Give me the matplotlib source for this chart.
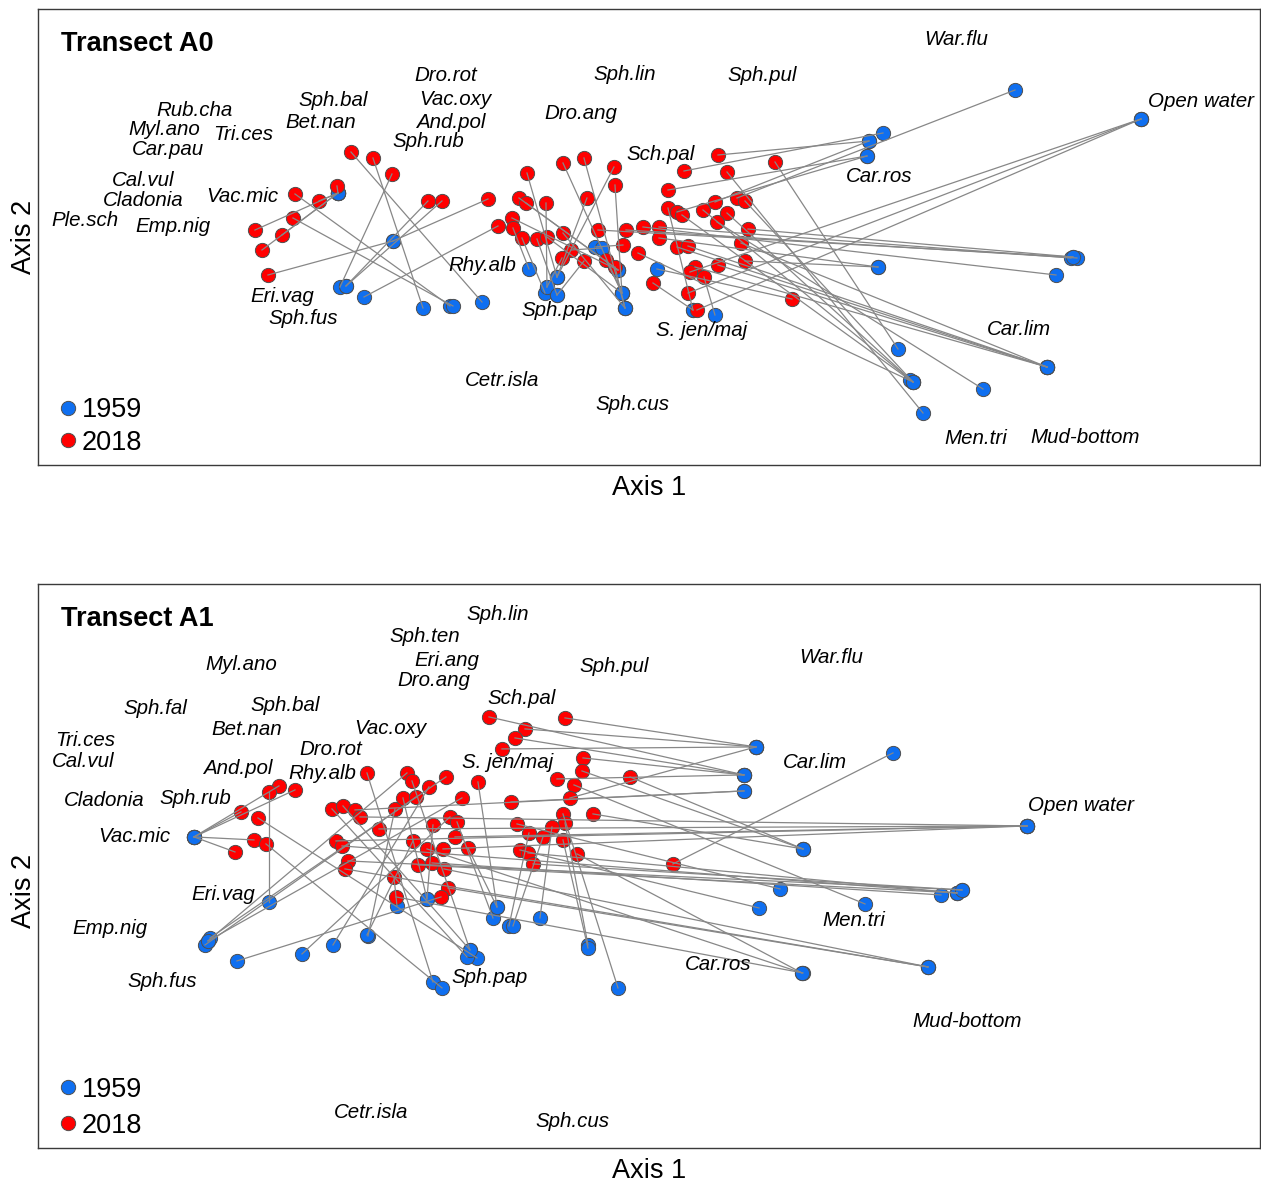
import matplotlib
matplotlib.use("Agg")
import matplotlib.pyplot as plt
from matplotlib.lines import Line2D
from matplotlib.transforms import offset_copy

plt.rcParams['font.family'] = ['Liberation Sans', 'DejaVu Sans']

# ---------------------------------------------------------------
# Transect A0 : site scores (2018 survey and matching 1959 survey)
# ---------------------------------------------------------------
a0_2018_x = [351, 373, 392, 337, 295, 319, 293, 255, 282, 262, 268, 428, 442, 488,
             498, 527, 563, 584, 614, 615, 519, 526, 546, 587, 512, 513, 522, 537,
             547, 563, 598, 626, 643, 659, 659, 623, 571, 562, 584, 606, 615, 638,
             653, 677, 688, 668, 684, 718, 727, 668, 677, 682, 703, 715, 727, 717,
             695, 690, 704, 718, 688, 697, 775, 737, 745, 748, 741, 745, 792]
a0_2018_y = [152, 158, 174, 186, 194, 201, 218, 230, 235, 250, 275, 201, 201, 199,
             226, 173, 163, 158, 167, 185, 198, 203, 203, 198, 218, 228, 238, 239,
             237, 233, 230, 230, 227, 227, 238, 245, 250, 258, 261, 260, 267, 253,
             283, 247, 246, 190, 171, 155, 172, 208, 212, 215, 210, 202, 213, 222,
             267, 272, 277, 265, 293, 310, 162, 198, 201, 229, 243, 261, 299]
a0_1959_x = [482, 423, 340, 338, 450, 338, 453, 338, 338, 338, 393, 346, 346, 393,
             364, 557, 622, 625, 557, 622, 618, 618, 547, 557, 618, 529, 545, 557,
             622, 625, 1073, 1077, 1056, 1071, 878, 595, 602, 547, 557, 622, 625, 913,
             693, 1047, 1047, 867, 883, 869, 923, 693, 867, 910, 913, 869, 913, 983,
             1047, 1141, 715, 1047, 1141, 1141, 898, 1015, 913, 1073, 1047, 878, 657]
a0_1959_y = [302, 308, 287, 193, 306, 193, 306, 193, 193, 193, 241, 286, 286, 241,
             297, 277, 293, 308, 277, 293, 270, 270, 287, 277, 270, 269, 293, 295,
             293, 308, 257, 258, 275, 258, 267, 247, 248, 287, 295, 293, 308, 382,
             310, 367, 367, 156, 133, 141, 413, 310, 156, 380, 382, 141, 382, 389,
             367, 119, 315, 367, 119, 119, 349, 90, 382, 257, 367, 267, 269]

# Species scores, Transect A0
a0_species = ["War.flu", "Open water", "Sph.lin", "Sph.pul", "Dro.rot", "Vac.oxy",
              "And.pol", "Sph.rub", "Dro.ang", "Sph.bal", "Bet.nan", "Rub.cha",
              "Myl.ano", "Tri.ces", "Car.pau", "Cal.vul", "Cladonia", "Vac.mic",
              "Ple.sch", "Emp.nig", "Sch.pal", "Car.ros", "Rhy.alb", "Eri.vag",
              "Sph.fus", "Sph.pap", "S. jen/maj", "Car.lim", "Cetr.isla", "Sph.cus",
              "Men.tri", "Mud-bottom"]
a0_species_x = [956, 1201, 625, 762, 446, 455, 451, 428, 581, 333, 321, 195,
                164, 243, 168, 143, 143, 242, 85, 173, 661, 879, 482, 282,
                303, 560, 702, 1019, 502, 632, 976, 1085]
a0_species_y = [38, 100, 73, 74, 74, 98, 121, 140, 112, 99, 121, 109,
                128, 133, 148, 179, 199, 195, 219, 225, 153, 175, 264, 295,
                317, 309, 329, 328, 379, 403, 437, 436]

# ---------------------------------------------------------------
# Transect A1 : site scores
# ---------------------------------------------------------------
a1_2018_x = [367, 407, 412, 295, 279, 269, 241, 258, 254, 266, 235, 332, 343, 355,
             360, 336, 342, 348, 345, 379, 395, 403, 416, 429, 446, 462, 478, 450,
             457, 433, 455, 413, 427, 443, 468, 418, 432, 444, 394, 448, 441, 396,
             489, 565, 525, 515, 502, 583, 582, 630, 557, 574, 570, 511, 593, 563,
             565, 552, 517, 529, 543, 563, 520, 528, 533, 577, 673]
a1_2018_y = [773, 773, 781, 790, 786, 792, 812, 818, 840, 844, 852, 809, 806, 810,
             817, 841, 846, 861, 869, 829, 809, 798, 797, 787, 777, 798, 782, 817,
             822, 825, 837, 841, 849, 849, 848, 865, 863, 869, 877, 888, 897, 897,
             717, 718, 729, 738, 749, 758, 771, 777, 779, 785, 798, 802, 814, 814,
             823, 827, 824, 833, 837, 840, 850, 853, 864, 854, 864]
a1_1959_x = [433, 208, 470, 194, 194, 269, 194, 477, 194, 442, 194, 467, 470, 744,
             1027, 1027, 957, 962, 928, 1027, 368, 427, 205, 333, 210, 208, 497, 302,
             493, 427, 1027, 367, 802, 1027, 497, 957, 941, 928, 397, 928, 237, 803,
             744, 756, 756, 744, 756, 744, 803, 803, 744, 865, 756, 744, 803, 618,
             588, 540, 780, 509, 513, 588, 759, 957, 962, 802, 893]
a1_1959_y = [982, 941, 950, 837, 837, 902, 837, 958, 837, 988, 837, 957, 950, 791,
             826, 826, 893, 890, 967, 826, 936, 899, 945, 945, 938, 941, 907, 954,
             918, 899, 826, 935, 973, 826, 907, 893, 895, 967, 906, 967, 961, 973,
             775, 747, 747, 775, 747, 775, 849, 849, 775, 904, 747, 791, 849, 988,
             945, 918, 889, 926, 926, 948, 908, 893, 890, 973, 753]

# Species scores, Transect A1
a1_species = ["Sph.lin", "Sph.ten", "Eri.ang", "Dro.ang", "Sph.pul", "War.flu",
              "Myl.ano", "Sph.fal", "Sph.bal", "Bet.nan", "Vac.oxy", "Sch.pal",
              "Tri.ces", "Cal.vul", "Dro.rot", "And.pol", "Rhy.alb", "S. jen/maj",
              "Car.lim", "Cladonia", "Sph.rub", "Open water", "Vac.mic", "Eri.vag",
              "Men.tri", "Emp.nig", "Car.ros", "Sph.pap", "Sph.fus", "Mud-bottom",
              "Cetr.isla", "Sph.cus"]
a1_species_x = [498, 425, 447, 434, 614, 831, 241, 155, 285, 247, 390, 522,
                85, 83, 331, 238, 322, 508, 815, 104, 195, 1081, 134, 223,
                854, 110, 718, 490, 162, 967, 371, 572]
a1_species_y = [613, 635, 659, 679, 665, 656, 663, 707, 704, 728, 727, 697,
                739, 760, 748, 767, 772, 761, 761, 799, 797, 804, 835, 893,
                919, 927, 963, 976, 980, 1020, 1111, 1120]

years = ["1959", "2018"]

RED = '#ff0000'
BLUE = '#0f6ff0'
EDGE = '#4f4f4f'
LINK = '#878787'
FS_SPECIES = 14.8
FS_BIG = 19.5


def draw_panel(fig, ax, title, rx, ry, bx, by, names, sx, sy, xlim, ylim,
               title_y, legend_anchor, spacing, xlabel_y, ylabel_y):
    ax.scatter(bx, by, s=105, c=BLUE, edgecolors=EDGE, linewidths=0.7, zorder=1)
    ax.scatter(rx, ry, s=105, c=RED, edgecolors=EDGE, linewidths=0.7, zorder=2)
    for x0, y0, x1, y1 in zip(rx, ry, bx, by):
        ax.plot([x0, x1], [y0, y1], color=LINK, lw=0.9, zorder=3)
    # species names sit a touch lower than the geometric text centre
    text_tr = offset_copy(ax.transData, fig=fig, x=0, y=-2, units='dots')
    for n, x, y in zip(names, sx, sy):
        ax.text(x, y, n, style='italic', fontsize=FS_SPECIES, transform=text_tr,
                ha='center', va='center', zorder=4)
    ax.set_xlim(*xlim)
    ax.set_ylim(*ylim)
    ax.set_xticks([])
    ax.set_yticks([])
    for sp in ax.spines.values():
        sp.set_color('#3a3a3a')
        sp.set_linewidth(1.0)
    ax.text(0.019, title_y, title, transform=ax.transAxes, fontsize=FS_BIG,
            fontweight='bold', va='center', ha='left')
    ax.set_xlabel("Axis 1", fontsize=FS_BIG)
    ax.xaxis.set_label_coords(0.5004, xlabel_y)
    ax.set_ylabel("Axis 2", fontsize=FS_BIG)
    ax.yaxis.set_label_coords(-0.001, ylabel_y)
    handles = [Line2D([], [], marker='o', ls='none', mfc=BLUE, mec=EDGE, mew=0.7, ms=10.3),
               Line2D([], [], marker='o', ls='none', mfc=RED, mec=EDGE, mew=0.7, ms=10.3)]
    ax.legend(handles, years, loc='lower left', bbox_to_anchor=legend_anchor,
              frameon=False, fontsize=FS_BIG, borderpad=0, borderaxespad=0,
              handlelength=0.5, handletextpad=0.28, labelspacing=spacing)


fig = plt.figure(figsize=(12.61, 11.82), dpi=100)
ax_a0 = fig.add_axes([0.0301, 0.6066, 0.9691, 0.3858])
ax_a1 = fig.add_axes([0.0301, 0.0288, 0.9691, 0.4772])

draw_panel(fig, ax_a0, "Transect A0", a0_2018_x, a0_2018_y, a0_1959_x, a0_1959_y,
           a0_species, a0_species_x, a0_species_y,
           (38, 1260), (465, 9), 0.9232, (0.0188, 0.020), 0.24, -0.0218, 0.5)
draw_panel(fig, ax_a1, "Transect A1", a1_2018_x, a1_2018_y, a1_1959_x, a1_1959_y,
           a1_species, a1_species_x, a1_species_y,
           (38, 1260), (1148, 584), 0.938, (0.0188, 0.0160), 0.37, -0.0177, 0.4557)

fig.savefig("out.png", dpi=100)
